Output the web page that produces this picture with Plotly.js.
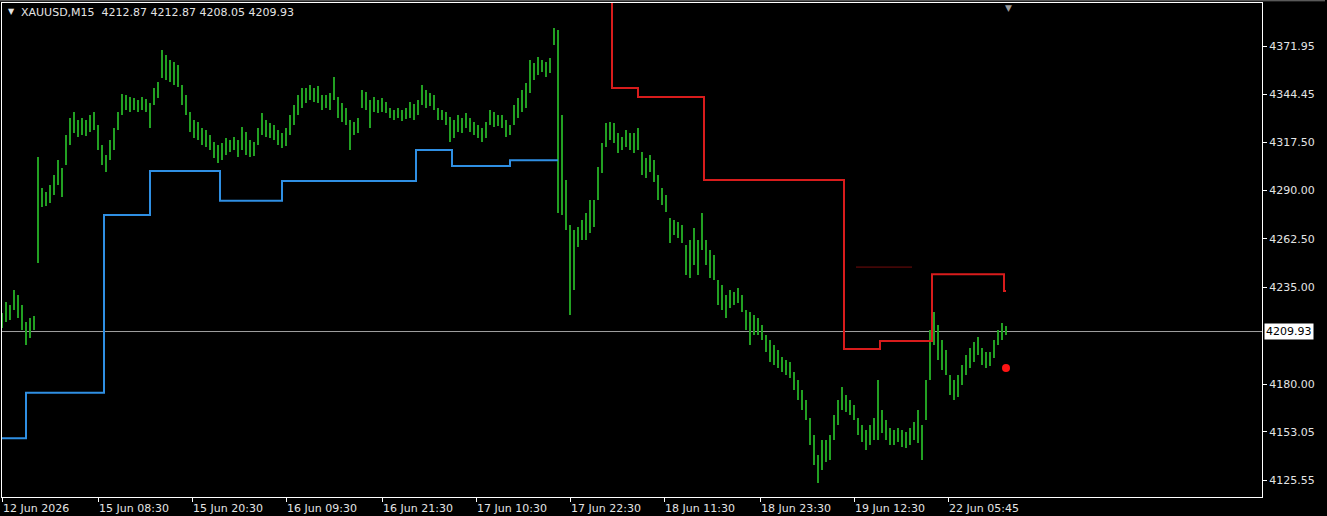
<!DOCTYPE html>
<html>
<head>
<meta charset="utf-8">
<script src="https://cdn.plot.ly/plotly-3.0.1.min.js"></script>
<style>
html,body{margin:0;padding:0;background:#000;}
#chart{width:1327px;height:516px;}
</style>
</head>
<body>
<div id="chart"></div>
<script>
// ---------- DATA ----------
const symbolLabel = "XAUUSD,M15";
const lastOHLC = ["4212.87", "4212.87", "4208.05", "4209.93"];
const lastClose = 4209.93;
const barStep = 2; // each entry below covers 2 M15 bars

const highs = [
  // 12 Jun
  4220.4, 4226.6, 4224.9, 4233.5, 4230.6, 4224.9, 4215.3, 4217.6, 4218.7,
  // 15 Jun open
  4309.0,
  4291.4, 4289.1, 4293.1, 4298.8, 4307.3, 4302.7, 4321.5, 4331.1, 4334.5, 4330.0,
  4331.1, 4330.0, 4332.8, 4334.5, 4327.1, 4315.8, 4310.1, 4318.6, 4325.4, 4334.5,
  4344.7, 4344.2, 4343.0, 4342.5, 4341.3, 4343.0, 4341.9, 4339.6, 4348.1, 4351.5,
  4369.7, 4366.9, 4364.0, 4362.9, 4361.2, 4349.8, 4344.2, 4334.5, 4330.0, 4328.8,
  4325.4, 4324.3, 4321.5, 4317.5, 4315.8, 4316.9, 4319.8, 4318.6, 4320.3, 4318.6,
  4326.0, 4323.2, 4318.6, 4317.5, 4325.4, 4333.9, 4330.0, 4328.3, 4327.1, 4324.3,
  4322.6, 4325.4, 4332.8, 4338.5, 4344.2, 4348.1, 4348.1, 4349.8, 4348.1, 4349.3,
  4344.2,
  // 16-17 Jun
  4344.2, 4345.3, 4354.4, 4343.0, 4339.6, 4336.8, 4330.0, 4328.8, 4331.1, 4347.0,
  4345.9, 4341.3, 4343.0, 4341.3, 4342.5, 4340.2, 4336.8, 4335.6, 4336.8, 4335.6,
  4336.8, 4340.2, 4339.1, 4341.3, 4349.8, 4347.0, 4345.3, 4344.2, 4336.8, 4335.6,
  4334.5, 4331.7, 4330.0, 4332.8, 4331.1, 4333.9, 4331.1, 4328.8, 4327.1, 4325.4,
  4328.8, 4335.6, 4334.5, 4332.8, 4332.8, 4330.0, 4327.1, 4338.5, 4342.5, 4347.0,
  4351.0, 4364.0, 4362.3, 4365.7, 4364.0, 4362.9, 4365.1, 4382.2,
  // 17 Jun drop and rebound
  4381.1, 4332.8, 4295.9, 4270.4, 4267.5, 4269.2, 4273.2, 4277.2, 4284.6, 4284.6,
  4303.3, 4316.9, 4328.3, 4328.8, 4328.3, 4322.6, 4320.3, 4324.3, 4322.6, 4322.6,
  4325.4,
  // 18 Jun decline
  4311.8, 4308.4, 4310.1, 4307.3, 4298.8, 4291.4, 4287.4, 4274.3, 4273.2, 4272.1,
  4270.4, 4259.0, 4261.9, 4268.7, 4261.9, 4277.2, 4261.9, 4256.2, 4253.3, 4239.1,
  4236.3, 4230.6, 4233.5, 4232.3, 4234.6, 4230.6, 4222.1, 4220.9, 4219.3, 4217.6,
  4213.6,
  // 18-22 Jun
  4207.9, 4205.1, 4202.2, 4199.4, 4195.4, 4193.7, 4192.6, 4186.9, 4182.4, 4176.7,
  4171.0, 4160.8, 4151.2, 4139.8, 4148.3, 4148.3, 4151.2, 4162.5, 4171.0, 4178.4,
  4173.9, 4171.0, 4168.2, 4160.8, 4156.8, 4154.0, 4156.8, 4160.8, 4182.4, 4165.3,
  4159.7, 4155.1, 4154.0, 4155.1, 4154.0, 4152.9, 4155.1, 4158.5, 4165.3, 4156.8,
  4182.4, 4210.8, 4221.0, 4213.6, 4205.1, 4199.4, 4185.2, 4182.4, 4185.2, 4190.9,
  4196.6, 4200.5, 4203.9, 4206.8, 4200.5, 4198.3, 4198.3, 4205.1, 4210.8, 4214.5,
  4212.9
];

const lows = [
  4211.9, 4215.3, 4216.4, 4222.1, 4217.6, 4210.8, 4202.2, 4206.2, 4210.8,
  4248.8,
  4280.6, 4281.2, 4282.9, 4287.4, 4293.1, 4286.3, 4304.4, 4315.8, 4322.6, 4320.3,
  4321.5, 4320.9, 4323.2, 4324.3, 4312.9, 4304.4, 4300.5, 4307.3, 4312.9, 4324.3,
  4332.8, 4335.6, 4334.5, 4335.6, 4334.5, 4335.6, 4334.5, 4325.4, 4338.5, 4342.5,
  4353.8, 4352.7, 4351.5, 4349.8, 4348.7, 4338.5, 4332.8, 4323.2, 4319.8, 4318.6,
  4315.8, 4314.6, 4312.9, 4308.4, 4305.6, 4307.3, 4310.1, 4311.8, 4312.9, 4308.9,
  4312.9, 4310.1, 4308.9, 4309.5, 4315.8, 4321.5, 4320.3, 4319.8, 4318.6, 4315.8,
  4314.1, 4315.2, 4321.5, 4327.1, 4332.8, 4336.8, 4339.6, 4341.3, 4340.2, 4339.6,
  4335.6,
  4336.8, 4335.6, 4341.3, 4331.1, 4328.8, 4327.1, 4312.9, 4321.5, 4322.6, 4336.8,
  4335.6, 4325.4, 4334.5, 4333.9, 4334.5, 4333.9, 4331.1, 4330.0, 4331.1, 4329.4,
  4330.5, 4331.1, 4330.0, 4332.8, 4338.5, 4336.8, 4337.9, 4335.6, 4330.0, 4330.0,
  4327.1, 4317.5, 4319.8, 4323.2, 4322.6, 4325.4, 4323.2, 4321.5, 4319.8, 4317.5,
  4319.8, 4327.1, 4326.0, 4326.6, 4325.4, 4320.3, 4321.5, 4327.1, 4331.1, 4334.5,
  4336.8, 4345.3, 4352.7, 4355.5, 4357.2, 4354.4, 4356.7, 4372.5,
  4277.2, 4276.1, 4267.5, 4219.3, 4233.5, 4257.9, 4261.9, 4261.9, 4265.8, 4269.2,
  4284.6, 4299.9, 4314.6, 4318.6, 4316.9, 4311.2, 4312.9, 4314.6, 4312.9, 4311.2,
  4312.9,
  4298.8, 4297.0, 4300.5, 4294.8, 4284.6, 4281.7, 4277.8, 4260.2, 4264.7, 4263.0,
  4260.2, 4242.0, 4240.3, 4247.7, 4242.0, 4256.2, 4247.7, 4240.3, 4239.1, 4224.9,
  4222.1, 4217.6, 4223.2, 4225.0, 4226.1, 4221.0, 4210.8, 4202.2, 4207.9, 4207.9,
  4205.1,
  4198.3, 4192.6, 4190.9, 4189.2, 4186.9, 4185.2, 4183.5, 4176.7, 4171.0, 4165.3,
  4159.7, 4145.5, 4134.1, 4123.9, 4131.3, 4135.8, 4137.0, 4148.3, 4156.8, 4165.3,
  4164.2, 4162.5, 4159.7, 4151.2, 4147.2, 4142.6, 4145.5, 4148.3, 4148.3, 4152.3,
  4148.3, 4145.5, 4145.5, 4147.2, 4144.3, 4143.8, 4145.5, 4148.3, 4146.6, 4137.0,
  4159.7, 4182.4, 4202.2, 4193.7, 4188.1, 4185.2, 4173.9, 4171.0, 4172.7, 4179.5,
  4185.2, 4189.2, 4192.6, 4196.6, 4190.9, 4189.2, 4190.3, 4194.9, 4202.2, 4205.1,
  4208.1
];

// support (blue) step indicator: bar index where each level starts, and level value
const supportBars = [0, 12, 51, 74, 109, 140, 207, 225, 254, 278];
const supportVals = [4149.3, 4175.2, 4276.0, 4301.0, 4284.2, 4295.3, 4312.9, 4303.9, 4307.1, 4307.1];

// resistance (red) step indicator
const resistBars = [304, 305, 318, 351, 421, 439, 465, 501, 502];
const resistVals = [4440.0, 4348.1, 4343.0, 4295.9, 4200.0, 4204.5, 4242.5, 4232.9, 4232.9];

// thin dark-red level
const weakLevelBars = [427, 455];
const weakLevelVal = 4246.5;

// red signal dot
const signalBar = 502;
const signalVal = 4189.2;

// axes
const priceTicks = [4371.95, 4344.45, 4317.50, 4290.00, 4262.50, 4235.00, 4180.00, 4153.05, 4125.55];
const priceTickText = ["4371.95", "4344.45", "4317.50", "4290.00", "4262.50", "4235.00", "4180.00", "4153.05", "4125.55"];
const timeTickBars = [0, 48, 95, 142, 190, 237, 284, 331, 379, 426, 473];
const timeTickText = ["12 Jun 2026", "15 Jun 08:30", "15 Jun 20:30", "16 Jun 09:30", "16 Jun 21:30",
                      "17 Jun 10:30", "17 Jun 22:30", "18 Jun 11:30", "18 Jun 23:30", "19 Jun 12:30", "22 Jun 05:45"];

// ---------- CHART ----------
const FONT = "DejaVu Sans";
const TXT = "#e4e4e4";
const barIdx = highs.map((_, i) => i * barStep);
const lastBar = barIdx[barIdx.length - 1];

const traces = [
  {
    type: "bar", x: barIdx, base: lows, y: highs.map((h, i) => h - lows[i]),
    width: 1.2, marker: {color: "#22a022", line: {width: 0}}, hoverinfo: "skip"
  },
  {
    type: "scatter", mode: "lines", x: supportBars, y: supportVals,
    line: {shape: "hv", color: "#2f8fe3", width: 2}, hoverinfo: "skip"
  },
  {
    type: "scatter", mode: "lines", x: resistBars, y: resistVals,
    line: {shape: "hv", color: "#d81c1c", width: 2}, hoverinfo: "skip"
  },
  {
    type: "scatter", mode: "lines", x: weakLevelBars, y: [weakLevelVal, weakLevelVal],
    line: {color: "#760c0c", width: 1}, hoverinfo: "skip"
  },
  {
    type: "scatter", mode: "markers", x: [signalBar], y: [signalVal],
    marker: {color: "#ff1414", size: 8}, hoverinfo: "skip"
  }
];

const annotations = timeTickBars.map((b, i) => ({
  x: b, xref: "x", y: 0, yref: "paper", yanchor: "top", xanchor: "left",
  yshift: -3, xshift: -1, showarrow: false, text: timeTickText[i],
  font: {family: FONT, size: 11, color: TXT}
}));

annotations.push({
  x: 0.003, xref: "paper", y: 0.982, yref: "paper", xanchor: "left", yanchor: "middle",
  showarrow: false, text: "▼", font: {family: FONT, size: 8, color: TXT}
});
annotations.push({
  x: 0.0135, xref: "paper", y: 0.981, yref: "paper", xanchor: "left", yanchor: "middle",
  showarrow: false, text: symbolLabel + "\u00a0\u00a0" + lastOHLC.join(" "),
  font: {family: FONT, size: 11, color: TXT}
});
annotations.push({
  x: 1, xref: "paper", xshift: 2, y: lastClose, yref: "y", xanchor: "left", yanchor: "middle",
  showarrow: false, text: lastClose.toFixed(2), bgcolor: "#ffffff", borderpad: 1,
  font: {family: FONT, size: 11, color: "#000000"}
});
annotations.push({
  x: lastBar + 1, xref: "x", y: 1, yref: "paper", xanchor: "center", yanchor: "top",
  yshift: 2, showarrow: false, text: "▼", font: {family: FONT, size: 9, color: "#9a9a9a"}
});

const layout = {
  width: 1327, height: 516,
  margin: {l: 2, r: 65, t: 3, b: 19, pad: 0},
  paper_bgcolor: "#000000", plot_bgcolor: "#000000",
  showlegend: false,
  font: {family: FONT, size: 11, color: TXT},
  xaxis: {
    range: [0, 630], showgrid: false, zeroline: false,
    showline: true, mirror: true, linecolor: "#ffffff", linewidth: 1,
    ticks: "outside", ticklen: 4, tickcolor: "#ffffff", tickwidth: 1,
    tickmode: "array", tickvals: timeTickBars, showticklabels: false, fixedrange: true
  },
  yaxis: {
    side: "right", range: [4116.0, 4396.4], showgrid: false, zeroline: false,
    showline: true, mirror: true, linecolor: "#ffffff", linewidth: 1,
    ticks: "outside", ticklen: 4, tickcolor: "#ffffff", tickwidth: 1,
    tickmode: "array", tickvals: priceTicks, ticktext: priceTickText,
    tickfont: {family: FONT, size: 11, color: TXT}, fixedrange: true
  },
  shapes: [
    {type: "line", xref: "paper", x0: 0, x1: 1, yref: "y", y0: lastClose, y1: lastClose,
     line: {color: "#a0a0a0", width: 1}, layer: "below"},
    {type: "line", xref: "paper", x0: -0.002, x1: 1.05, yref: "paper", y0: 1.0045, y1: 1.0045,
     line: {color: "#7a7a7a", width: 1}}
  ],
  annotations: annotations,
  bargap: 0
};

Plotly.newPlot("chart", traces, layout, {displayModeBar: false, staticPlot: true});
</script>
</body>
</html>
